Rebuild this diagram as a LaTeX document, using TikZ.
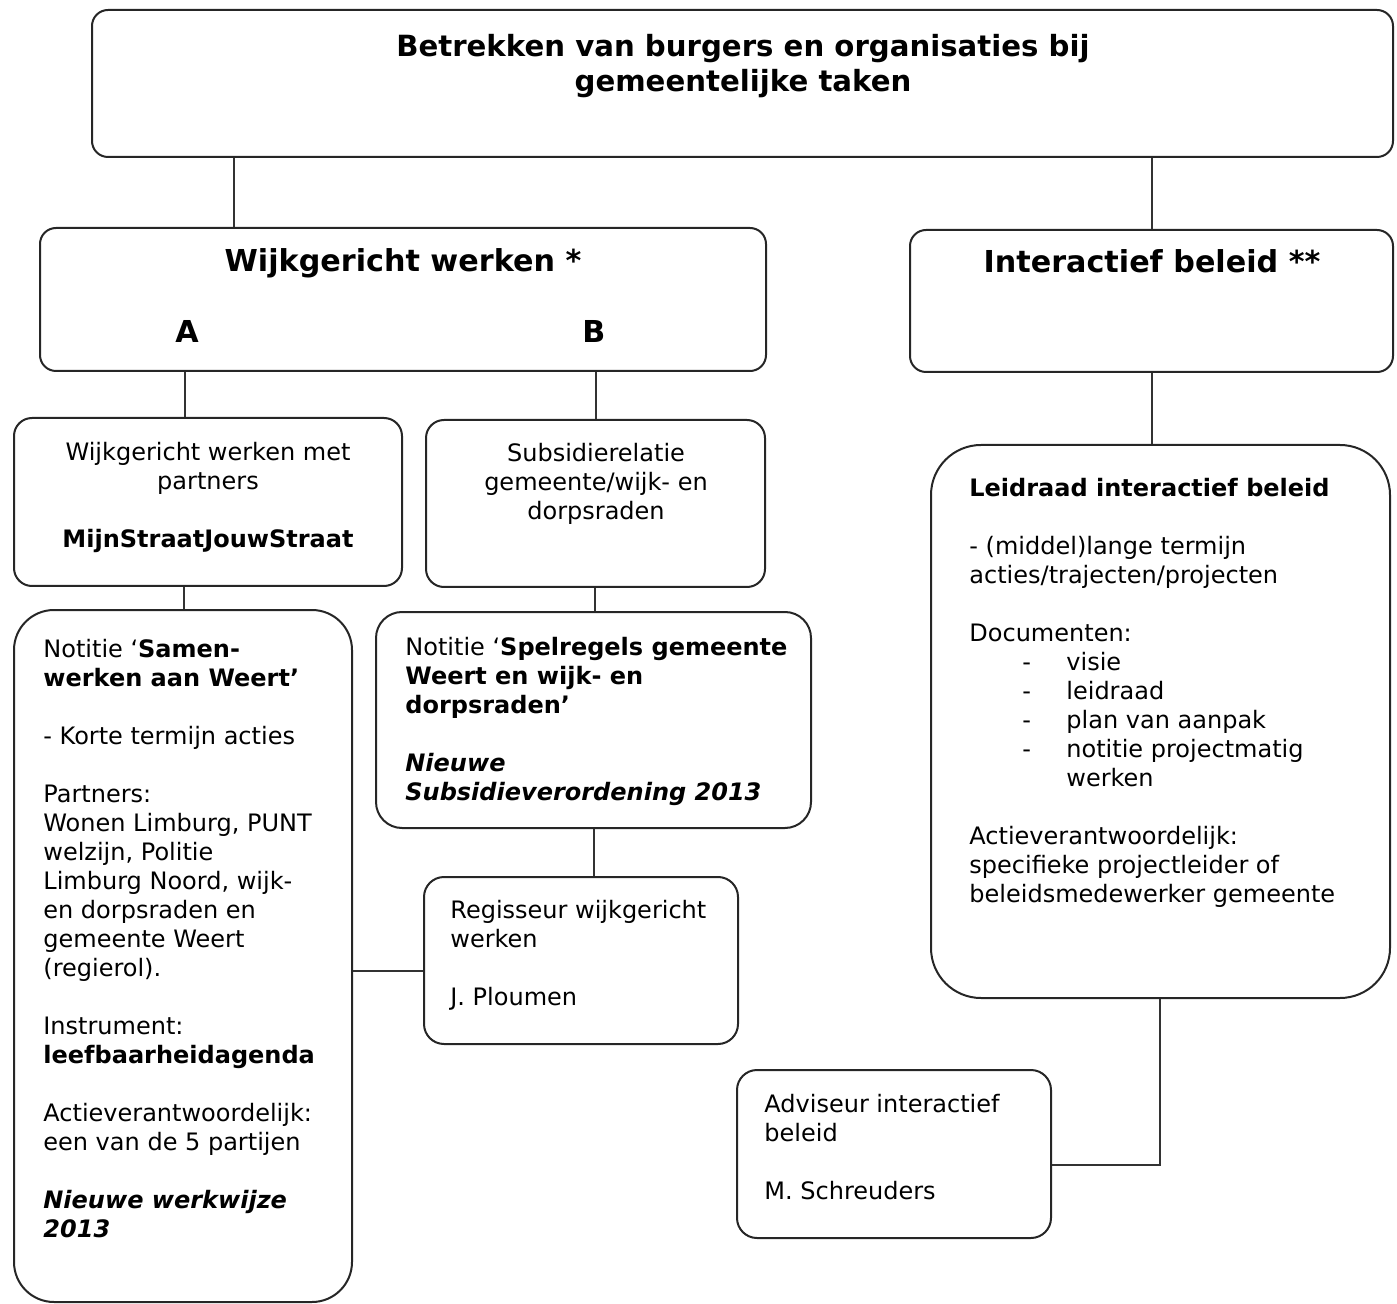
\documentclass[tikz,border=0pt]{standalone}
\usepackage{fontspec}
\setmainfont{DejaVu Sans}[ItalicFont=DejaVu Sans Oblique,BoldItalicFont=DejaVu Sans Bold Oblique]
\usetikzlibrary{positioning,fit}

\newcommand{\bodyfont}{\fontsize{12}{14.5}\selectfont}
\newcommand{\titlefont}{\fontsize{14.6}{17.5}\selectfont\bfseries}
\newcommand{\headfont}{\fontsize{15.1}{17.5}\selectfont\bfseries}
\newcommand{\gap}{\\[14.5pt]}
\newcommand{\ditem}[1]{\hspace*{26.5pt}\makebox[22pt][l]{-}#1}

\tikzset{
	box/.style={draw=black!85, line width=1pt, inner sep=0pt},
	link/.style={draw=black!80, line width=0.8pt},
	txt/.style={inner sep=0pt, anchor=north west, align=left, font=\bodyfont},
	ctxt/.style={inner sep=0pt, anchor=north, align=center, font=\bodyfont},
	head/.style={inner sep=0pt, anchor=north, align=center, font=\headfont}
}

\begin{document}
\begin{tikzpicture}[x=0.5pt, y=-0.5pt]
	\useasboundingbox (0,0) rectangle (1397,1304);

	% boxes
	\node[box, rounded corners=8pt, fit={(92,10) (1393,157)}] (top) {};
	\node[box, rounded corners=8pt, fit={(40,228) (766,371)}] (wijk) {};
	\node[box, rounded corners=8pt, fit={(910,230) (1393,372)}] (inter) {};
	\node[box, rounded corners=9pt, fit={(14,418) (402,586)}] (partners) {};
	\node[box, rounded corners=9pt, fit={(426,420) (765,587)}] (subsidie) {};
	\node[box, rounded corners=20pt, fit={(14,610) (352,1302)}] (samen) {};
	\node[box, rounded corners=13pt, fit={(376,612) (811,828)}] (spel) {};
	\node[box, rounded corners=10pt, fit={(424,877) (738,1044)}] (regis) {};
	\node[box, rounded corners=25pt, fit={(931,445) (1390,998)}] (leid) {};
	\node[box, rounded corners=10pt, fit={(737,1070) (1051,1238)}] (advies) {};

	% texts
	\node[head, font=\titlefont] (top-txt) at (743,32) {\strut Betrekken van burgers en organisaties bij\\gemeentelijke taken};
	\node[head] (wijk-txt) at (403,247) {\strut Wijkgericht werken *};
	\node[head] (wijk-a) at (187,318) {\strut A};
	\node[head] (wijk-b) at (594,318) {\strut B};
	\node[head] (inter-txt) at (1152,248) {\strut Interactief beleid **};

	\node[ctxt] (partners-txt) at (208,440) {\strut Wijkgericht werken met\\partners\gap
		\textbf{MijnStraatJouwStraat}};
	\node[ctxt] (subsidie-txt) at (596,441) {\strut Subsidierelatie\\gemeente/wijk- en\\dorpsraden};

	\node[txt] (samen-txt) at (43,637) {\strut Notitie ‘\textbf{Samen-}\\
		\textbf{werken aan Weert’}\gap
		- Korte termijn acties\gap
		Partners:\\
		Wonen Limburg, PUNT\\
		welzijn, Politie\\
		Limburg Noord, wijk-\\
		en dorpsraden en\\
		gemeente Weert\\
		(regierol).\gap
		Instrument:\\
		\textbf{leefbaarheidagenda}\gap
		Actieverantwoordelijk:\\
		een van de 5 partijen\gap
		\textbf{\itshape Nieuwe werkwijze}\\
		\textbf{\itshape 2013}};

	\node[txt] (spel-txt) at (405,635) {\strut Notitie ‘\textbf{Spelregels gemeente}\\
		\textbf{Weert en wijk- en}\\
		\textbf{dorpsraden’}\gap
		\textbf{\itshape Nieuwe}\\
		\textbf{\itshape Subsidieverordening 2013}};

	\node[txt] (regis-txt) at (450,898) {\strut Regisseur wijkgericht\\werken\gap J. Ploumen};

	\node[txt] (leid-txt) at (969,476) {\strut\textbf{Leidraad interactief beleid}\gap
		- (middel)lange termijn\\
		acties/trajecten/projecten\gap
		Documenten:\\
		\ditem{visie}\\
		\ditem{leidraad}\\
		\ditem{plan van aanpak}\\
		\ditem{notitie projectmatig}\\
		\hspace*{48.5pt}werken\gap
		Actieverantwoordelijk:\\
		specifieke projectleider of\\
		beleidsmedewerker gemeente};

	\node[txt] (advies-txt) at (764,1092) {\strut Adviseur interactief\\beleid\gap M. Schreuders};

	% connectors
	\draw[link] (top.south -| 234,0) -- (wijk.north -| 234,0);
	\draw[link] (top.south -| 1152,0) -- (inter.north -| 1152,0);
	\draw[link] (wijk.south -| 185,0) -- (partners.north -| 185,0);
	\draw[link] (wijk.south -| 596,0) -- (subsidie.north -| 596,0);
	\draw[link] (inter.south -| 1152,0) -- (leid.north -| 1152,0);
	\draw[link] (partners.south -| 184,0) -- (samen.north -| 184,0);
	\draw[link] (subsidie.south -| 595,0) -- (spel.north -| 595,0);
	\draw[link] (spel.south -| 594,0) -- (regis.north -| 594,0);
	\draw[link] (samen.east |- 0,971) -- (regis.west |- 0,971);
	\draw[link] (leid.south -| 1160,0) |- (advies.east |- 0,1165);
\end{tikzpicture}
\end{document}
